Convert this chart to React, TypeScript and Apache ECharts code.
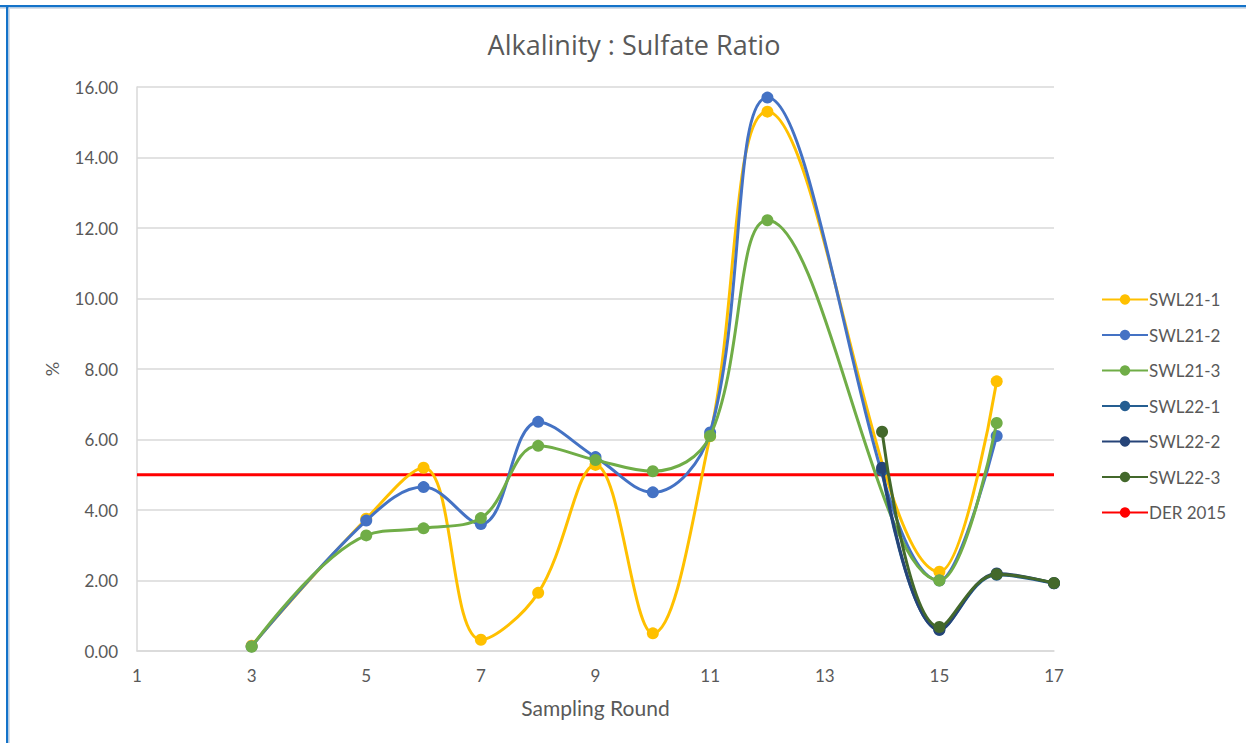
import React, { useEffect, useRef } from "react";
import * as echarts from "echarts";

const title = "Alkalinity : Sulfate Ratio";
const xName = "Sampling Round";
const yName = "%";

const xRounds21 = [3, 5, 6, 7, 8, 9, 10, 11, 12, 15, 16];
const swl21_1 = [0.15, 3.75, 5.2, 0.32, 1.65, 5.28, 0.5, 6.1, 15.3, 2.25, 7.65];
const swl21_2 = [0.13, 3.7, 4.65, 3.6, 6.5, 5.5, 4.5, 6.2, 15.7, 2.0, 6.1];
const swl21_3 = [0.12, 3.28, 3.48, 3.77, 5.82, 5.42, 5.1, 6.1, 12.22, 2.0, 6.47];

const xRounds22 = [14, 15, 16, 17];
const swl22_1 = [5.12, 0.6, 2.16, 1.92];
const swl22_2 = [5.2, 0.6, 2.2, 1.92];
const swl22_3 = [6.22, 0.68, 2.18, 1.93];

const derX = [1, 17];
const derY = [5, 5];

const names = ["SWL21-1", "SWL21-2", "SWL21-3", "SWL22-1", "SWL22-2", "SWL22-3", "DER 2015"];
const colors = ["#FFC000", "#4472C4", "#70AD47", "#255E91", "#264478", "#43682B", "#FF0000"];

const pair = (xs: number[], ys: number[]) => xs.map((x, i) => [x, ys[i]]);

export default function App() {
  const ref = useRef<HTMLDivElement>(null);
  useEffect(() => {
    if (!ref.current) return;
    const chart = echarts.init(ref.current, undefined, { renderer: "svg" });
    const font = "Lato, 'Open Sans', sans-serif";
    const titleFont = "'Open Sans', Lato, sans-serif";
    const textColor = "#595959";
    const mk = (i: number, data: number[][]) => ({
      name: names[i],
      type: "line",
      data,
      smooth: 0.38,
      symbol: "circle",
      symbolSize: 12,
      showSymbol: true,
      itemStyle: { color: colors[i] },
      lineStyle: { color: colors[i], width: 3 },
      z: 2 + i,
    });
    const series: any[] = [
      mk(0, pair(xRounds21, swl21_1)),
      mk(1, pair(xRounds21, swl21_2)),
      mk(2, pair(xRounds21, swl21_3)),
      mk(3, pair(xRounds22, swl22_1)),
      mk(4, pair(xRounds22, swl22_2)),
      mk(5, pair(xRounds22, swl22_3)),
      {
        name: names[6],
        type: "line",
        data: pair(derX, derY),
        symbol: "none",
        showSymbol: false,
        itemStyle: { color: colors[6] },
        lineStyle: { color: colors[6], width: 3 },
        z: 1,
      },
    ];
    chart.setOption({
      animation: false,
      backgroundColor: "#ffffff",
      title: {
        text: title,
        left: 629,
        textAlign: "center",
        top: 26,
        textStyle: { color: textColor, fontSize: 27, fontWeight: "normal", fontFamily: titleFont },
      },
      legend: {
        orient: "vertical",
        left: 1096,
        top: 286,
        itemWidth: 46,
        itemHeight: 13,
        itemGap: 18.5,
        data: names,
        textStyle: { color: textColor, fontSize: 17, fontFamily: font, padding: [0, 0, 0, -4] },
      },
      grid: { left: 137, right: 192, top: 87, bottom: 92, containLabel: false },
      xAxis: {
        type: "value",
        min: 1,
        max: 17,
        interval: 2,
        name: xName,
        nameLocation: "middle",
        nameGap: 46,
        nameTextStyle: { color: textColor, fontSize: 21, fontFamily: font },
        axisLine: { show: true, lineStyle: { color: "#D9D9D9", width: 1.5 } },
        axisTick: { show: false },
        splitLine: { show: false },
        axisLabel: { color: textColor, fontSize: 17, fontFamily: font, margin: 16 },
      },
      yAxis: {
        type: "value",
        min: 0,
        max: 16,
        interval: 2,
        name: yName,
        nameLocation: "middle",
        nameGap: 76,
        nameRotate: 90,
        nameTextStyle: { color: textColor, fontSize: 18, fontFamily: font },
        axisLine: { show: true, lineStyle: { color: "#D9D9D9", width: 1.5 } },
        axisTick: { show: false },
        splitLine: { show: true, lineStyle: { color: "#D9D9D9", width: 1.5 } },
        axisLabel: {
          color: textColor,
          fontSize: 17,
          fontFamily: font,
          margin: 19,
          formatter: (v: number) => v.toFixed(2),
        },
      },
      graphic: [
        { type: "rect", shape: { x: 0, y: 5, width: 1246, height: 2.5 }, style: { fill: "#1473C9" }, z: 10 },
        { type: "rect", shape: { x: 0, y: 7.5, width: 1246, height: 1.5 }, style: { fill: "#D8DEE6" }, z: 10 },
        { type: "rect", shape: { x: 6, y: 5, width: 2.5, height: 738 }, style: { fill: "#1473C9" }, z: 10 },
        { type: "rect", shape: { x: 8.5, y: 7.5, width: 1.5, height: 736 }, style: { fill: "#D8DEE6" }, z: 10 },
      ],
      series,
    });
    return () => chart.dispose();
  }, []);
  return (
    <div
      ref={ref}
      style={{ position: "fixed", left: 0, top: 0, width: 1246, height: 743, background: "#fff" }}
    />
  );
}
